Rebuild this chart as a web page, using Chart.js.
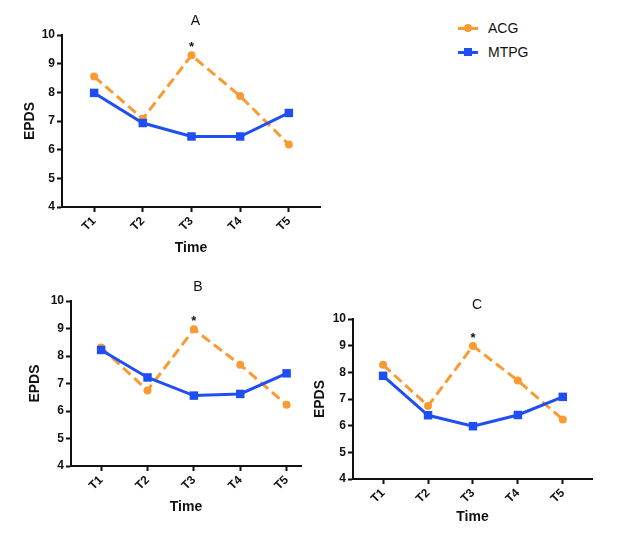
<!DOCTYPE html>
<html>
<head>
<meta charset="utf-8">
<script src="https://cdn.jsdelivr.net/npm/chart.js@4"></script>
<style>
  html, body { margin: 0; padding: 0; background: #fff; }
  body { width: 641px; height: 534px; position: relative; overflow: hidden; font-family: 'Liberation Sans', Arial, sans-serif; }
  canvas { position: absolute; }
  .legend { position: absolute; left: 456px; top: 18px; font-size: 14px; color: #111; }
  .item { position: relative; height: 24px; line-height: 20px; padding-left: 32px; }
  .item .ln { position: absolute; left: 2px; top: 9px; width: 20px; height: 2.5px; }
  .item .mk { position: absolute; }
</style>
</head>
<body>
<canvas id="chartA" width="330" height="262" style="left:0;top:0"></canvas>
<canvas id="chartB" width="320" height="250" style="left:0;top:270px"></canvas>
<canvas id="chartC" width="310" height="240" style="left:300px;top:290px"></canvas>
<div class="legend">
  <div class="item"><span class="ln" style="background:#F99B33"></span><span class="mk" style="left:8px;top:6px;width:8px;height:8px;border-radius:50%;background:#F99B33"></span>ACG</div>
  <div class="item"><span class="ln" style="background:#1F4FF2"></span><span class="mk" style="left:8px;top:6px;width:8px;height:8px;background:#1F4FF2"></span>MTPG</div>
</div>
<script>
// Three EPDS panels (A, B, C): ACG vs MTPG over T1..T5

const CATS = ['T1', 'T2', 'T3', 'T4', 'T5'];
const Y_MIN = 4;
const Y_MAX = 10;

const ACG_A = [8.55, 7.08, 9.29, 7.87, 6.18];
const MTPG_A = [7.98, 6.93, 6.46, 6.46, 7.28];
const ACG_B = [8.31, 6.75, 8.97, 7.68, 6.23];
const MTPG_B = [8.22, 7.22, 6.56, 6.62, 7.37];
const ACG_C = [8.28, 6.74, 8.99, 7.69, 6.23];
const MTPG_C = [7.87, 6.39, 5.98, 6.40, 7.08];

const ORANGE = '#F99B33';
const BLUE = '#1F4FF2';
const FONT = "'Liberation Sans', Arial, sans-serif";

const pts = (arr) => arr.map((v, i) => ({ x: i, y: v }));

// panel letter on top + significance star above T3
const panelText = {
  id: 'panelText',
  afterDraw(chart, args, opts) {
    const { ctx, chartArea, scales } = chart;
    const x3 = scales.x.getPixelForValue(2);
    ctx.save();
    ctx.fillStyle = '#111';
    ctx.textAlign = 'center';
    ctx.textBaseline = 'middle';
    ctx.font = '14px ' + FONT;
    ctx.fillText(opts.letter, x3 + 4, chartArea.top - 14);
    ctx.font = 'bold 13px ' + FONT;
    const y3 = scales.y.getPixelForValue(opts.star);
    ctx.fillText('*', x3, y3 - 8);
    ctx.restore();
  },
};

function makePanel(id, acg, mtpg, cfg) {
  const tickFont = { family: FONT, size: 12, weight: 'bold' };
  const titleFont = { family: FONT, size: 14, weight: 'bold' };
  new Chart(document.getElementById(id), {
    type: 'line',
    data: {
      datasets: [
        {
          label: 'ACG', data: pts(acg), order: 2,
          borderColor: ORANGE, backgroundColor: ORANGE, borderWidth: 3, borderDash: [10, 5],
          pointStyle: 'circle', pointRadius: 4, pointBorderWidth: 0, tension: 0,
        },
        {
          label: 'MTPG', data: pts(mtpg), order: 1,
          borderColor: BLUE, backgroundColor: BLUE, borderWidth: 3,
          pointStyle: 'rect', pointRadius: 6, pointBorderWidth: 0, tension: 0,
        },
      ],
    },
    options: {
      responsive: false, animation: false,
      layout: { padding: { top: cfg.top, right: cfg.right, left: 0, bottom: 0 } },
      plugins: {
        legend: { display: false }, tooltip: { enabled: false },
        panelText: { letter: cfg.letter, star: Math.max(...acg) },
      },
      scales: {
        x: {
          type: 'linear', min: cfg.xMin, max: cfg.xMax,
          afterBuildTicks: (s) => { s.ticks = CATS.map((_, i) => ({ value: i })); },
          afterFit: (s) => { s.height = cfg.xH; },
          ticks: { callback: (v) => CATS[v], minRotation: 45, maxRotation: 45, color: '#111', font: tickFont, padding: 2 },
          grid: { drawOnChartArea: false, drawTicks: true, tickLength: 5, tickWidth: 2, tickColor: '#111' },
          border: { display: true, color: '#111', width: 2 },
          title: { display: true, text: 'Time', color: '#111', font: titleFont, padding: { top: 0, bottom: cfg.tb } },
        },
        y: {
          min: Y_MIN, max: Y_MAX,
          afterFit: (s) => { s.width = cfg.yW; },
          ticks: { stepSize: 1, color: '#111', font: tickFont, padding: 2 },
          grid: { drawOnChartArea: false, drawTicks: true, tickLength: 5, tickWidth: 2, tickColor: '#111' },
          border: { display: true, color: '#111', width: 2 },
          title: { display: true, text: 'EPDS', color: '#111', font: titleFont, padding: { top: cfg.tl, bottom: 0 } },
        },
      },
    },
    plugins: [panelText],
  });
}

makePanel('chartA', ACG_A, MTPG_A, { letter: 'A', top: 35, right: 10, yW: 62, xH: 55, tl: 21.6, tb: 5.6, xMin: -0.66, xMax: 4.64 });
makePanel('chartB', ACG_B, MTPG_B, { letter: 'B', top: 31, right: 19, yW: 71, xH: 54, tl: 26.6, tb: 4.6, xMin: -0.65, xMax: 4.31 });
makePanel('chartC', ACG_C, MTPG_C, { letter: 'C', top: 29, right: 18, yW: 53, xH: 51, tl: 11.6, tb: 4.6, xMin: -0.67, xMax: 4.65 });
</script>
</body>
</html>
